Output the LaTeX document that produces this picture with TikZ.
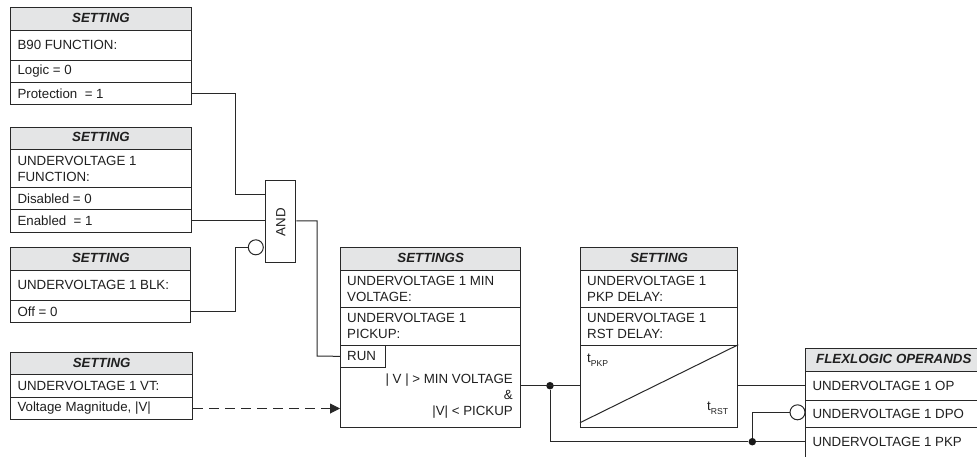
\documentclass[tikz,border=0pt]{standalone}
\usepackage{fontspec}
\setmainfont{Liberation Sans}
\usepackage{xcolor}
\usetikzlibrary{arrows.meta, positioning, calc}
\definecolor{cHead}{RGB}{228,229,230}
\definecolor{cLine}{RGB}{40,40,40}
\tikzset{
	% setting tables
	rowbox/.style ={rectangle, draw=cLine, line width=1pt, anchor=north west, inner sep=0pt, align=left, text=black!88, font=\fontsize{13.3}{16}\selectfont},
	headbox/.style={rowbox, fill=cHead, text depth=2pt, font=\fontsize{13.3}{16}\selectfont\bfseries\itshape, align=center},
	wire/.style   ={draw=cLine, line width=1pt},
	dashwire/.style={wire, dash pattern=on 10pt off 6pt, -{Triangle[length=10pt,width=10pt]}},
	notc/.style   ={circle, draw=cLine, line width=1pt, fill=white, minimum size=15pt, inner sep=0pt},
	dotj/.style   ={circle, fill=black!90, minimum size=7.5pt, inner sep=0pt},
	tlab/.style   ={anchor=west, inner sep=0pt, text=black!88, font=\fontsize{13.3}{16}\selectfont},
}
\newcommand{\rowb}[5]{% name, x, y top, width, height
	\node[rowbox, minimum width=#4pt, minimum height=#5pt] (#1) at (#2,#3) {};}
\newcommand{\subt}[1]{t\raisebox{-3.5pt}{\fontsize{8.6}{9}\selectfont #1}}
\begin{document}
\begin{tikzpicture}[x=1pt, y=-1pt]
	\useasboundingbox (0,0) rectangle (977,456);
	% B90 function
	\node[headbox, minimum width=180.4pt, minimum height=22.2pt] (h1) at (10.3,7.3) {SETTING};
	\rowb{a1}{10.3}{29.5}{180.4}{30}
	\rowb{a2}{10.3}{59.5}{180.4}{22.5}
	\rowb{a3}{10.3}{82}{180.4}{22.3}
	\node[tlab] (a1t) at ($(a1.west)+(7,0)$) {B90 FUNCTION:};
	\node[tlab] (a2t) at ($(a2.west)+(7,0)$) {Logic = 0};
	\node[tlab] (a3t) at ($(a3.west)+(7,0)$) {Protection\ \ = 1};
	% function
	\node[headbox, minimum width=180.4pt, minimum height=22.3pt] (h2) at (10.3,126.7) {SETTING};
	\rowb{b1}{10.3}{149}{180.4}{38}
	\rowb{b2}{10.3}{187}{180.4}{22.3}
	\rowb{b3}{10.3}{209.3}{180.4}{22.3}
	\node[tlab, align=left] (b1t) at ($(b1.west)+(7,0)$) {UNDERVOLTAGE 1\\FUNCTION:};
	\node[tlab] (b2t) at ($(b2.west)+(7,0)$) {Disabled = 0};
	\node[tlab] (b3t) at ($(b3.west)+(7,0)$) {Enabled\ \ = 1};
	% blk
	\node[headbox, minimum width=180.1pt, minimum height=22.2pt] (h3) at (10.3,247.3) {SETTING};
	\rowb{c1}{10.3}{269.5}{180.1}{30}
	\rowb{c2}{10.3}{299.5}{180.1}{22.5}
	\node[tlab] (c1t) at ($(c1.west)+(7,0)$) {UNDERVOLTAGE 1 BLK:};
	\node[tlab] (c2t) at ($(c2.west)+(7,0)$) {Off = 0};
	% vt
	\node[headbox, minimum width=181.7pt, minimum height=22.3pt] (h4) at (10.3,352) {SETTING};
	\rowb{d1}{10.3}{374.3}{181.7}{22.4}
	\rowb{d2}{10.3}{396.7}{181.7}{22.6}
	\node[tlab] (d1t) at ($(d1.west)+(7,0)$) {UNDERVOLTAGE 1 VT:};
	\node[tlab] (d2t) at ($(d2.west)+(7,0)$) {Voltage Magnitude, |V|};
	% and gate
	\node[rowbox, minimum width=30pt, minimum height=82.3pt] (gate) at (265.3,179.7) {};
	\node[rotate=90, inner sep=0pt, xshift=-0.7pt, text=black!88, font=\fontsize{13.3}{16}\selectfont] (gatet) at (gate.center) {AND};
	\node[notc] (n1) at (255.8,247.3) {};
	% settings
	\node[headbox, minimum width=180.3pt, minimum height=22.2pt] (h5) at (340,247.3) {SETTINGS};
	\rowb{e1}{340}{269.5}{180.3}{37.2}
	\rowb{e2}{340}{306.7}{180.3}{38}
	\rowb{e3}{340}{344.7}{180.3}{82}
	\rowb{run}{340}{344.7}{45.3}{22.3}
	\node[tlab, align=left] (e1t) at ($(e1.west)+(7,0)$) {UNDERVOLTAGE 1 MIN\\VOLTAGE:};
	\node[tlab, align=left] (e2t) at ($(e2.west)+(7,0)$) {UNDERVOLTAGE 1\\PICKUP:};
	\node[tlab] (runt) at ($(run.west)+(7,0)$) {RUN};
	\node[tlab, anchor=east, align=right] (e3t) at (513,396) {| V | > MIN VOLTAGE\hspace{2pt}\\\&\\|V| < PICKUP};
	% delays
	\node[headbox, minimum width=157.3pt, minimum height=22.2pt] (h6) at (580,247.3) {SETTING};
	\rowb{f1}{580}{269.5}{157.3}{37.2}
	\rowb{f2}{580}{306.7}{157.3}{38}
	\rowb{f3}{580}{344.7}{157.3}{82}
	\node[tlab, align=left] (f1t) at ($(f1.west)+(7,0)$) {UNDERVOLTAGE 1\\PKP DELAY:};
	\node[tlab, align=left] (f2t) at ($(f2.west)+(7,0)$) {UNDERVOLTAGE 1\\RST DELAY:};
	\coordinate (diagb) at (580,422.7);
	\draw[wire] (diagb) -- (f3.north east);
	\node[tlab] (tpkp) at (587,360) {\subt{PKP}};
	\node[tlab] (trst) at (707,408) {\subt{RST}};
	% operands
	\node[headbox, minimum width=176pt, minimum height=22.7pt] (h7) at (805.3,348) {FLEXLOGIC OPERANDS};
	\rowb{g1}{805.3}{370.7}{176}{29.6}
	\rowb{g2}{805.3}{400.3}{176}{27}
	\rowb{g3}{805.3}{427.3}{176}{34}
	\node[tlab] (g1t) at ($(g1.west)+(7,0)$) {UNDERVOLTAGE 1 OP};
	\node[tlab] (g2t) at ($(g2.west)+(7,0)$) {UNDERVOLTAGE 1 DPO};
	\node[tlab] (g3t) at (812.3,441.7) {UNDERVOLTAGE 1 PKP};
	\node[notc] (n2) at (797.5,412.3) {};
	\node[dotj] (j1) at (550,385.7) {};
	\node[dotj] (j2) at (752.3,441.7) {};
	% wires
	\coordinate (g3in) at (805.3,441.7);
	\coordinate (ga) at (235.5,194);
	\coordinate (gb) at (235.2,247.3);
	\coordinate (gc) at (317,356);
	\draw[wire] (a3.east) -| (ga) -- (gate.west |- ga);
	\draw[wire] (b3.east) -- (gate.west |- b3.east);
	\draw[wire] (c2.east) -| (gb) -- (n1.west);
	\draw[wire] (gate.east |- b3.east) -| (gc) -- (run.west);
	\draw[dashwire] (d2.east) -- (e3.west |- d2.east);
	\draw[wire] (e3.east |- j1) -- (f3.west |- j1);
	\draw[wire] (f3.east |- j1) -- (g1.west |- j1);
	\draw[wire] (j1) |- (j2) -- (g3in);
	\draw[wire] (j2) |- (n2.west);
\end{tikzpicture}
\end{document}
